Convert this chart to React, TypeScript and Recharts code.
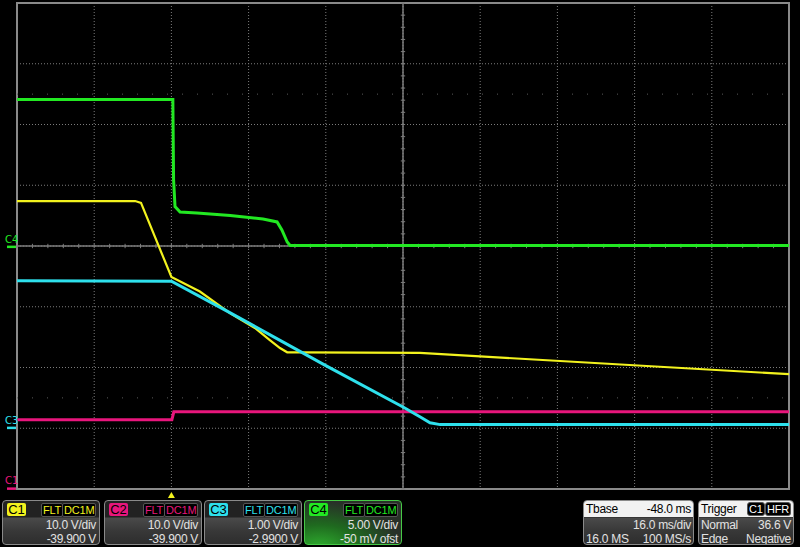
import React from 'react';
import { LineChart, Line, XAxis, YAxis, CartesianGrid, ReferenceLine, ReferenceArea, ReferenceDot } from 'recharts';

// time in ms (0 = trigger), 16 ms/div; vertical in divisions
const timeTicks = [-32, -16, 0, 16, 32, 48, 64, 80, 96, 112, 128];
const divTicks = [-4, -3, -2, -1, 0, 1, 2, 3, 4];

// C1 yellow: 10 V/div, offset -39.9 V
const c1Time = [-32, -7.5, -6.3, 0, 5.9, 12.2, 17.3, 20.4, 22.5, 24.0, 26.7, 51.5, 128];
const c1Volts = [47.3, 47.3, 47.0, 34.8, 32.4, 28.8, 26.4, 24.4, 23.1, 22.4, 22.4, 22.3, 18.8];

// C2 magenta: 10 V/div, offset -39.9 V
const c2Time = [-32, 0.1, 0.5, 128];
const c2Volts = [11.3, 11.3, 12.6, 12.6];

// C3 cyan: 1 V/div, offset -2.99 V
const c3Time = [-32, 0, 12.2, 32.0, 48.0, 51.5, 53.6, 55.7, 128];
const c3Volts = [2.42, 2.41, 1.89, 1.02, 0.34, 0.18, 0.08, 0.05, 0.05];

// C4 green: 5 V/div, offset -50 mV
const c4Time = [-32, 0.3, 0.45, 0.75, 1.8, 5.3, 12.2, 19.0, 21.9, 22.9, 24.0, 24.6, 128];
const c4Volts = [12.1, 12.1, 5.5, 3.3, 2.85, 2.77, 2.56, 2.27, 2.03, 1.37, 0.38, 0.09, 0.09];

const YELLOW = '#f2f21e';
const MAGENTA = '#e8167c';
const CYAN = '#2ee0ec';
const GREEN = '#22e822';
const GRID = '#7c7c7c';

const toDivs = (time: number[], volts: number[], scale: number, offset: number) =>
  time.map((t, i) => ({ t, d: (volts[i] + offset) / scale }));

const c1Data = toDivs(c1Time, c1Volts, 10, -39.9);
const c2Data = toDivs(c2Time, c2Volts, 10, -39.9);
const c3Data = toDivs(c3Time, c3Volts, 1, -2.99);
const c4Data = toDivs(c4Time, c4Volts, 5, -0.05);

// minor ticks on the centre axes (5 per division)
const hMinor: number[] = [];
for (let i = 0; i <= 50; i++) hMinor.push(-32 + i * 3.2);
const vMinor: number[] = [];
for (let i = 0; i <= 40; i++) vMinor.push(-4 + i * 0.2);

const channelMarker = (label: string, color: string) => (props: any) => {
  const { cx, cy } = props;
  return (
    <g>
      <rect x={cx - 10} y={cy - 1} width={9} height={2.5} fill={color} />
      <text x={cx - 12} y={cy - 4} fill={color} fontSize={10} fontFamily="DejaVu Sans, sans-serif">{label}</text>
    </g>
  );
};

const triggerMarker = (props: any) => {
  const { cx, cy } = props;
  return <polygon points={`${cx},${cy + 3} ${cx - 3.5},${cy + 9} ${cx + 3.5},${cy + 9}`} fill={YELLOW} />;
};

const badge = (color: string): React.CSSProperties => ({
  position: 'absolute', top: 2, height: 14, lineHeight: '12px', fontSize: 11, letterSpacing: -0.2,
  background: '#000', color, padding: '0 1px', border: '1px solid #555', borderRadius: 2, boxSizing: 'border-box',
  whiteSpace: 'nowrap',
});

const txt: React.CSSProperties = { position: 'absolute', fontSize: 12, letterSpacing: -0.3, whiteSpace: 'nowrap', lineHeight: '14px' };

function ChannelBox({ left, name, color, scale, offset, active }: any) {
  return (
    <div style={{
      position: 'absolute', left, top: 500, width: 98, height: 45, boxSizing: 'border-box',
      border: `1px solid ${active ? '#46c846' : '#8a8a8a'}`, borderRadius: 4, overflow: 'hidden',
      background: active
        ? 'radial-gradient(ellipse at 15% 110%, #2fb02f 0%, #1f6a1f 35%, #283028 70%)'
        : 'linear-gradient(#222 0px, #222 16px, #4a4a4a 17px, #383838 30px, #2c2c2c 44px)',
    }}>
      <div style={{ position: 'absolute', left: 4, top: 2, width: 19, height: 13, lineHeight: '13px', fontSize: 13,
        background: color, color: '#000', textAlign: 'center', borderRadius: 2 }}>{name}</div>
      <div style={{ ...badge(color), left: 38 }}>FLT</div>
      <div style={{ ...badge(color), left: 59 }}>DC1M</div>
      <div style={{ ...txt, right: 3, top: 17, color: '#e2e2e2' }}>{scale}</div>
      <div style={{ ...txt, right: 3, top: 31, color: '#e2e2e2' }}>{offset}</div>
    </div>
  );
}

const panelBase: React.CSSProperties = {
  position: 'absolute', top: 500, height: 45, boxSizing: 'border-box', border: '1px solid #8a8a8a',
  borderRadius: 4, overflow: 'hidden', color: '#e2e2e2',
  background: 'linear-gradient(#222 0px, #222 16px, #4a4a4a 17px, #383838 30px, #2c2c2c 44px)',
};

export default function App() {
  return (
    <div style={{ position: 'absolute', left: 0, top: 0, width: 800, height: 547, background: '#000', overflow: 'hidden',
      fontFamily: '"Liberation Sans", Arial, sans-serif' }}>
      <LineChart width={800} height={547} data={c1Data} margin={{ top: 3, right: 11, bottom: 58, left: 17 }}>
        <XAxis dataKey="t" type="number" domain={[-32, 128]} ticks={timeTicks} hide allowDataOverflow />
        <YAxis type="number" domain={[-4, 4]} ticks={divTicks} hide allowDataOverflow />
        <CartesianGrid stroke={GRID} strokeDasharray="1 2" />
        <ReferenceLine y={2.5} stroke="#5a5a5a" strokeDasharray="1 14" />
        <ReferenceLine y={-2.5} stroke="#5a5a5a" strokeDasharray="1 14" />
        <ReferenceLine x={48} stroke={GRID} strokeWidth={1.5} />
        <ReferenceLine y={0} stroke={GRID} strokeWidth={1.5} />
        {hMinor.map((t) => (
          <ReferenceLine key={'h' + t} stroke={GRID} segment={[{ x: t, y: -0.036 }, { x: t, y: 0.036 }]} />
        ))}
        {vMinor.map((d) => (
          <ReferenceLine key={'v' + d} stroke={GRID} segment={[{ x: 47.55, y: d }, { x: 48.45, y: d }]} />
        ))}
        <ReferenceArea x1={-32} x2={128} y1={-4} y2={4} fill="none" stroke="#8a8a8a" strokeWidth={2} />
        <Line data={c2Data} dataKey="d" type="linear" dot={false} stroke={MAGENTA} strokeWidth={3} isAnimationActive={false} />
        <Line data={c1Data} dataKey="d" type="linear" dot={false} stroke={YELLOW} strokeWidth={2.2} isAnimationActive={false} />
        <Line data={c3Data} dataKey="d" type="linear" dot={false} stroke={CYAN} strokeWidth={3} isAnimationActive={false} />
        <Line data={c4Data} dataKey="d" type="linear" dot={false} stroke={GREEN} strokeWidth={3} isAnimationActive={false} />
        <ReferenceDot x={-32} y={-0.01} r={0} ifOverflow="visible" shape={channelMarker('C4', GREEN)} />
        <ReferenceDot x={-32} y={-2.99} r={0} ifOverflow="visible" shape={channelMarker('C3', CYAN)} />
        <ReferenceDot x={-32} y={-3.99} r={0} ifOverflow="visible" shape={channelMarker('C1', MAGENTA)} />
        <ReferenceDot x={0} y={-4} r={0} ifOverflow="visible" shape={triggerMarker} />
      </LineChart>

      <ChannelBox left={2} name="C1" color={YELLOW} scale="10.0 V/div" offset="-39.900 V" />
      <ChannelBox left={104} name="C2" color={MAGENTA} scale="10.0 V/div" offset="-39.900 V" />
      <ChannelBox left={204} name="C3" color={CYAN} scale="1.00 V/div" offset="-2.9900 V" />
      <ChannelBox left={304} name="C4" color={GREEN} scale="5.00 V/div" offset="-50 mV ofst" active />

      <div style={{ ...panelBase, left: 583, width: 111 }}>
        <div style={{ position: 'absolute', left: 0, top: 0, right: 0, height: 16, background: '#f2f2f2', color: '#000' }}>
          <span style={{ ...txt, left: 2, top: 1 }}>Tbase</span>
          <span style={{ ...txt, right: 2, top: 1 }}>-48.0 ms</span>
        </div>
        <div style={{ ...txt, right: 2, top: 17 }}>16.0 ms/div</div>
        <div style={{ ...txt, left: 2, top: 31 }}>16.0 MS</div>
        <div style={{ ...txt, right: 2, top: 31 }}>100 MS/s</div>
      </div>

      <div style={{ ...panelBase, left: 698, width: 96 }}>
        <div style={{ position: 'absolute', left: 0, top: 0, right: 0, height: 16, background: '#f2f2f2', color: '#000' }}>
          <span style={{ ...txt, left: 2, top: 1 }}>Trigger</span>
          <span style={{ ...badge('#fff'), top: 1, left: 48, borderRadius: 3 }}>C1</span>
          <span style={{ ...badge('#fff'), top: 1, left: 66, borderRadius: 3 }}>HFR</span>
        </div>
        <div style={{ ...txt, left: 2, top: 17 }}>Normal</div>
        <div style={{ ...txt, right: 2, top: 17 }}>36.6 V</div>
        <div style={{ ...txt, left: 2, top: 31 }}>Edge</div>
        <div style={{ ...txt, right: 2, top: 31 }}>Negative</div>
      </div>
    </div>
  );
}
